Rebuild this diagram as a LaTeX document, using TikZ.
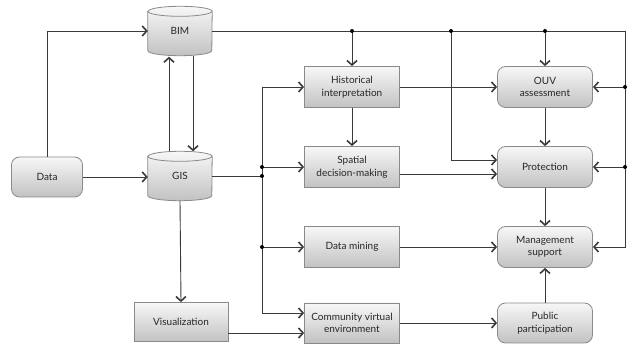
\documentclass[tikz,border=0pt]{standalone}
\usepackage{fontspec}
\setmainfont{Lato}
\usetikzlibrary{arrows.meta,calc}
\definecolor{ln}{HTML}{3A3A3A}
\definecolor{bd}{HTML}{8A8A8A}
\pgfdeclarelayer{bg}
\pgfsetlayers{bg,main}
\begin{document}
\begin{tikzpicture}[x=1pt,y=-1pt,
  box/.style={draw=bd, line width=0.8pt, top color=gray!6, bottom color=gray!48,
    minimum width=95pt, minimum height=41pt, align=center, inner sep=1pt,
    font=\fontsize{10}{12.5}\selectfont, text=black!85},
  rbox/.style={box, rounded corners=8pt},
  db/.style={minimum width=64pt, minimum height=49pt, inner sep=0pt,
    font=\fontsize{10}{12.5}\selectfont, text=black!85},
  cyl/.style={draw=bd, line width=0.8pt, top color=gray!6, bottom color=gray!48},
  arr/.style={-{Straight Barb[length=4.5pt,width=10pt,line width=1.6pt]}, line width=0.9pt, draw=ln},
  ln/.style={line width=0.9pt, draw=ln},
  dot/.style={circle, fill=black, inner sep=0pt, minimum size=4pt}
]
\useasboundingbox (0,0) rectangle (627,344);

\node[rbox, minimum width=71pt, minimum height=40pt] (Data) at (47,177) {Data};
\node[db] (BIM) at (180,31) {BIM};
\node[db] (GIS) at (180,176) {GIS};
\node[box, minimum width=94pt, minimum height=39pt] (Vis) at (181,322) {Visualization};

\begin{pgfonlayer}{bg}
\foreach \n in {BIM,GIS}{
  \path[cyl] ($(\n.north west)+(0,5)$) -- ($(\n.south west)+(0,-5)$)
    arc[start angle=180,end angle=360,x radius=32pt,y radius=5pt]
    -- ($(\n.north east)+(0,5)$)
    arc[start angle=0,end angle=180,x radius=32pt,y radius=5pt] -- cycle;
  \draw[draw=bd, line width=0.8pt] ($(\n.north west)+(0,5)$)
    arc[start angle=180,end angle=360,x radius=32pt,y radius=5pt];
}
\end{pgfonlayer}

\node[box] (Hist) at (352,87) {Historical\\interpretation};
\node[box] (Spat) at (352,167) {Spatial\\decision-making};
\node[box] (Mine) at (352,247) {Data mining};
\node[box, minimum height=40pt] (Comm) at (352,323) {Community virtual\\environment};

\node[rbox] (OUV) at (545,87) {OUV\\assessment};
\node[rbox] (Prot) at (545,167) {Protection};
\node[rbox] (Mgmt) at (545,247) {Management\\support};
\node[rbox, minimum height=40pt] (Pub) at (545,323) {Public\\participation};

\coordinate (R) at (625,0);
\coordinate (X) at (262,0);
\coordinate (J) at (GIS.east -| X);
\coordinate (V) at (451,0);
\coordinate (g1) at ($(GIS.north)+(-11,0)$);
\coordinate (b1) at ($(BIM.south)+(-11,1)$);
\coordinate (b2) at ($(BIM.south)+(13,0)$);
\coordinate (g2) at ($(GIS.north)+(13,0)$);
\coordinate (c1) at ($(Comm.west)+(0,-10)$);
\coordinate (v1) at ($(Vis.east)+(0,11)$);
\coordinate (s1) at ($(Spat.east)+(0,7)$);
\coordinate (p1) at ($(Prot.west)+(0,-7)$);

% Data links
\draw[arr] (Data.north) |- (BIM.west);
\draw[arr] (Data.east) -- (Data.east -| GIS.west);
% BIM <-> GIS
\draw[arr] (g1) -- (b1);
\draw[arr] (b2) -- (g2);
\draw[arr] (GIS.south) -- (Vis.north);

% GIS bus
\draw[ln] (GIS.east) -- (J);
\draw[arr] (J) |- (Hist.west);
\draw[arr] (J) |- (c1);
\draw[arr] (Spat.west -| J) -- (Spat.west);
\draw[arr] (Mine.west -| J) -- (Mine.west);
\node[dot] (d1) at (J) {};
\node[dot] (d2) at (Spat.west -| J) {};
\node[dot] (d3) at (Mine.west -| J) {};
\draw[arr] (v1) -- (v1 -| Comm.west);

% BIM bus
\draw[arr] (BIM.east) -| (R |- Mgmt.east) -- (Mgmt.east);
\draw[arr] (Hist.north |- BIM.east) -- (Hist.north);
\draw[arr] (OUV.north |- BIM.east) -- (OUV.north);
\draw[arr] (V |- BIM.east) |- (p1);
\draw[arr] (R |- OUV.east) -- (OUV.east);
\draw[arr] (R |- Prot.east) -- (Prot.east);
\node[dot] (d4) at (Hist.north |- BIM.east) {};
\node[dot] (d5) at (V |- BIM.east) {};
\node[dot] (d6) at (OUV.north |- BIM.east) {};
\node[dot] (d7) at (R |- OUV.east) {};
\node[dot] (d8) at (R |- Prot.east) {};

% right column
\draw[arr] (Hist.east) -- (OUV.west);
\draw[arr] (Hist.south) -- (Spat.north);
\draw[arr] (s1) -- (s1 -| Prot.west);
\draw[arr] (Mine.east) -- (Mgmt.west);
\draw[arr] (Comm.east) -- (Pub.west);
\draw[arr] (OUV.south) -- (Prot.north);
\draw[arr] (Prot.south) -- (Mgmt.north);
\draw[arr] (Pub.north) -- (Mgmt.south);
\end{tikzpicture}
\end{document}
